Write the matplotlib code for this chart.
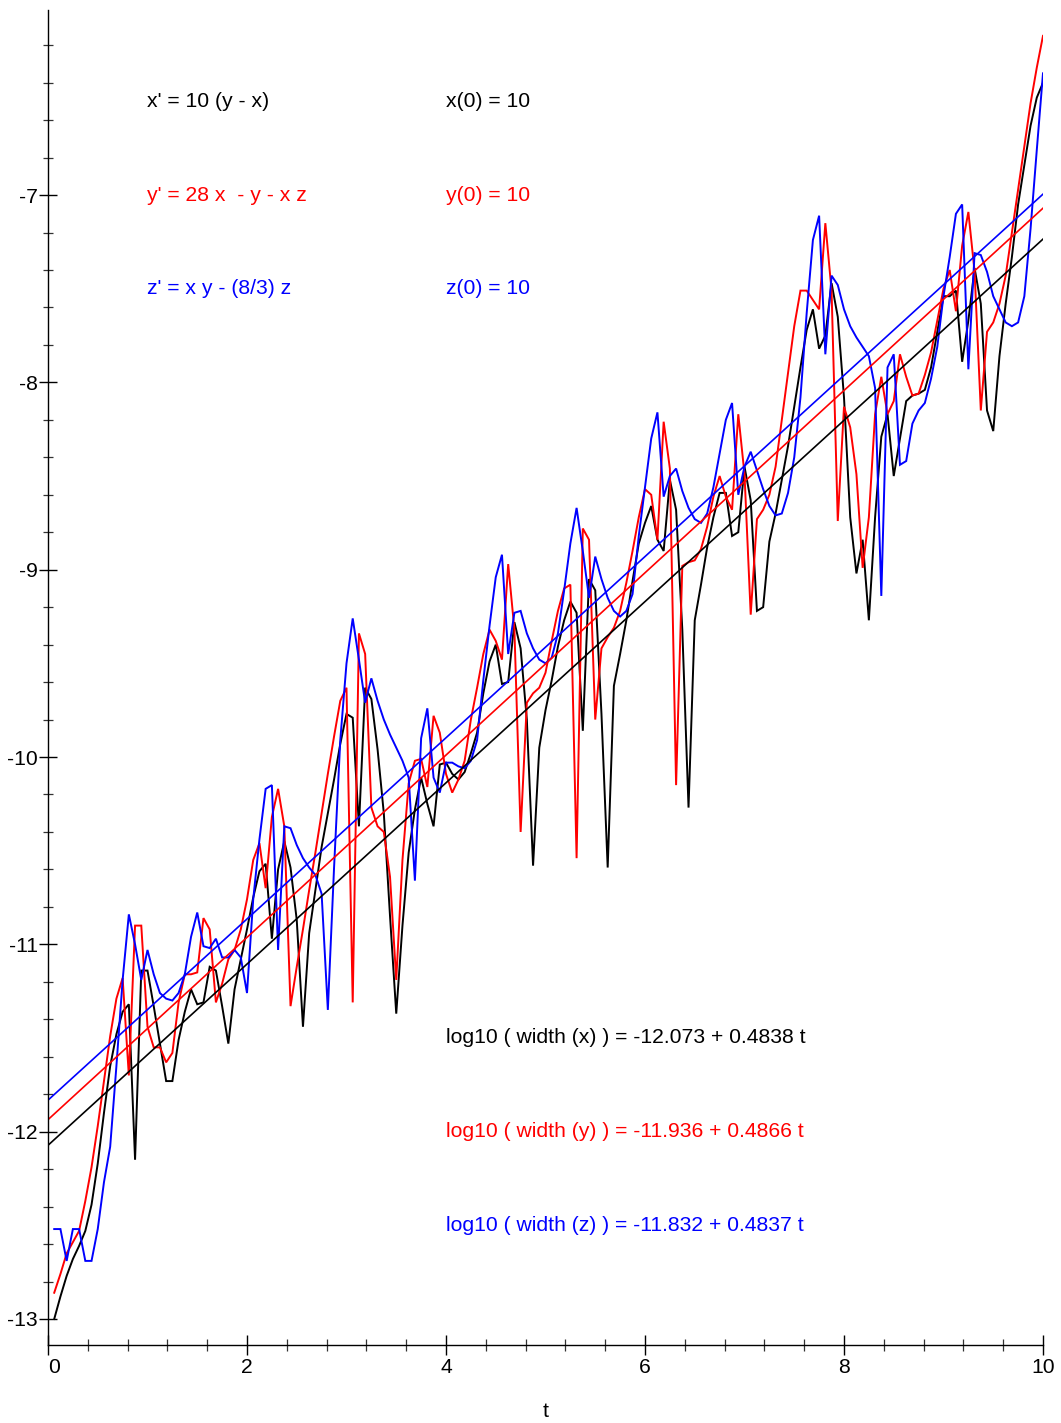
import numpy as np
import matplotlib
matplotlib.use("Agg")
import matplotlib.pyplot as plt
from matplotlib.ticker import MultipleLocator

plt.rcParams['font.family'] = ['Liberation Sans', 'DejaVu Sans']
plt.rcParams['axes.unicode_minus'] = False

# integration grid, step 1/16
t = np.arange(1, 161) / 16.0

# log10 of interval widths
width_x = [
    -13.00, -12.88, -12.77, -12.68, -12.61, -12.53, -12.39, -12.17, -11.90, -11.65,
    -11.48, -11.36, -11.32, -12.15, -11.14, -11.14, -11.33, -11.53, -11.73, -11.73,
    -11.51, -11.36, -11.24, -11.32, -11.31, -11.12, -11.14, -11.33, -11.53, -11.24,
    -11.08, -10.92, -10.75, -10.61, -10.57, -10.97, -10.60, -10.45, -10.59, -10.87,
    -11.44, -10.94, -10.71, -10.48, -10.30, -10.12, -9.93, -9.77, -9.79, -10.37,
    -9.63, -9.69, -9.96, -10.30, -10.85, -11.37, -10.90, -10.51, -10.28, -10.11,
    -10.25, -10.37, -10.04, -10.03, -10.09, -10.12, -10.08, -9.98, -9.87, -9.66,
    -9.49, -9.40, -9.61, -9.60, -9.28, -9.42, -9.80, -10.58, -9.95, -9.75,
    -9.59, -9.41, -9.27, -9.17, -9.23, -9.86, -9.05, -9.11, -9.77, -10.59,
    -9.62, -9.45, -9.27, -9.06, -8.86, -8.75, -8.66, -8.84, -8.90, -8.52,
    -8.68, -9.32, -10.27, -9.27, -9.08, -8.88, -8.72, -8.59, -8.59, -8.82,
    -8.80, -8.45, -8.63, -9.22, -9.20, -8.85, -8.70, -8.52, -8.34, -8.13,
    -7.92, -7.72, -7.61, -7.82, -7.75, -7.47, -7.65, -8.08, -8.72, -9.02,
    -8.84, -9.27, -8.72, -8.29, -8.17, -8.50, -8.30, -8.10, -8.07, -8.06,
    -8.04, -7.92, -7.73, -7.54, -7.54, -7.51, -7.89, -7.67, -7.39, -7.58,
    -8.15, -8.26, -7.86, -7.58, -7.33, -7.05, -6.84, -6.63, -6.48, -6.40,
]
width_y = [
    -12.86, -12.76, -12.65, -12.59, -12.53, -12.37, -12.19, -11.97, -11.73, -11.49,
    -11.29, -11.18, -11.70, -10.90, -10.90, -11.44, -11.55, -11.55, -11.63, -11.58,
    -11.31, -11.16, -11.16, -11.15, -10.86, -10.92, -11.31, -11.21, -11.08, -11.03,
    -10.92, -10.76, -10.55, -10.46, -10.70, -10.32, -10.17, -10.37, -11.33, -11.12,
    -10.92, -10.71, -10.51, -10.30, -10.09, -9.89, -9.70, -9.63, -11.31, -9.34,
    -9.45, -10.27, -10.37, -10.40, -10.64, -11.19, -10.55, -10.14, -10.02, -10.01,
    -10.16, -9.78, -9.87, -10.09, -10.19, -10.12, -10.02, -9.80, -9.63, -9.45,
    -9.32, -9.38, -9.48, -8.97, -9.32, -10.40, -9.71, -9.66, -9.63, -9.55,
    -9.38, -9.22, -9.10, -9.08, -10.54, -8.78, -8.84, -9.80, -9.42, -9.36,
    -9.31, -9.22, -9.07, -8.90, -8.72, -8.57, -8.60, -8.84, -8.21, -8.46,
    -10.15, -8.98, -8.96, -8.95, -8.89, -8.77, -8.61, -8.50, -8.61, -8.68,
    -8.17, -8.49, -9.24, -8.73, -8.68, -8.60, -8.45, -8.20, -7.95, -7.70,
    -7.51, -7.51, -7.56, -7.61, -7.15, -7.51, -8.74, -8.13, -8.24, -8.49,
    -8.99, -8.72, -8.17, -7.97, -8.17, -8.10, -7.85, -7.97, -8.07, -8.06,
    -7.96, -7.84, -7.67, -7.50, -7.40, -7.62, -7.27, -7.09, -7.41, -8.15,
    -7.73, -7.68, -7.58, -7.43, -7.20, -6.97, -6.74, -6.51, -6.32, -6.15,
]
width_z = [
    -12.52, -12.52, -12.69, -12.52, -12.52, -12.69, -12.69, -12.52, -12.27, -12.08,
    -11.65, -11.19, -10.84, -11.00, -11.19, -11.03, -11.16, -11.26, -11.29, -11.30,
    -11.26, -11.16, -10.96, -10.83, -11.01, -11.02, -10.97, -11.07, -11.07, -11.03,
    -11.07, -11.26, -10.76, -10.44, -10.17, -10.15, -11.03, -10.37, -10.38, -10.47,
    -10.54, -10.59, -10.63, -10.73, -11.35, -10.59, -9.91, -9.50, -9.26, -9.48,
    -9.71, -9.58, -9.70, -9.80, -9.88, -9.95, -10.02, -10.11, -10.66, -9.90,
    -9.74, -10.11, -10.19, -10.03, -10.03, -10.05, -10.06, -10.02, -9.91, -9.59,
    -9.30, -9.04, -8.92, -9.45, -9.23, -9.22, -9.34, -9.42, -9.48, -9.50,
    -9.47, -9.34, -9.11, -8.86, -8.67, -8.90, -9.15, -8.93, -9.05, -9.15,
    -9.22, -9.25, -9.22, -9.13, -8.82, -8.56, -8.30, -8.16, -8.61, -8.50,
    -8.46, -8.58, -8.67, -8.73, -8.75, -8.70, -8.56, -8.38, -8.20, -8.11,
    -8.60, -8.45, -8.37, -8.47, -8.57, -8.66, -8.71, -8.70, -8.59, -8.40,
    -8.08, -7.63, -7.24, -7.11, -7.85, -7.43, -7.48, -7.61, -7.70, -7.76,
    -7.81, -7.86, -8.03, -9.14, -7.92, -7.85, -8.44, -8.42, -8.22, -8.15,
    -8.11, -7.98, -7.81, -7.54, -7.33, -7.10, -7.05, -7.93, -7.31, -7.32,
    -7.41, -7.54, -7.61, -7.68, -7.70, -7.68, -7.54, -7.18, -6.76, -6.35,
]

# least squares fits  log10(width) = a + b t
fit_a = [-12.073, -11.936, -11.832]
fit_b = [0.4838, 0.4866, 0.4837]
colors = ['black', 'red', 'blue']
names = ['x', 'y', 'z']

equations = ["x' = 10 (y - x)", "y' = 28 x  - y - x z", "z' = x y - (8/3) z"]
initial = ["x(0) = 10", "y(0) = 10", "z(0) = 10"]

fs = 15.2

fig = plt.figure(figsize=(10.61, 14.23), dpi=100)
ax = fig.add_axes([0.04524, 0.05481, 0.93779, 0.93816])

for w, c in zip([width_x, width_y, width_z], colors):
    ax.plot(t, w, color=c, lw=1.4, solid_joinstyle='miter')

tt = np.array([0.0, 10.0])
for a, b, c in zip(fit_a, fit_b, colors):
    ax.plot(tt, a + b * tt, color=c, lw=1.2)

# equations and fit results
for i in range(3):
    ax.text(1.0, -6.5 - 0.5 * i, equations[i], color=colors[i], fontsize=fs,
            ha='left', va='center')
    ax.text(4.0, -6.5 - 0.5 * i, initial[i], color=colors[i], fontsize=fs,
            ha='left', va='center')
    ax.text(4.0, -11.5 - 0.5 * i,
            "log10 ( width (%s) ) = %.3f + %.4f t" % (names[i], fit_a[i], fit_b[i]),
            color=colors[i], fontsize=fs, ha='left', va='center')

ax.set_xlim(0, 10)
ax.set_ylim(-13.139, -6.012)
ax.spines['top'].set_visible(False)
ax.spines['right'].set_visible(False)
ax.spines['left'].set_linewidth(1.0)
ax.spines['bottom'].set_linewidth(1.0)

ax.xaxis.set_major_locator(MultipleLocator(2))
ax.xaxis.set_minor_locator(MultipleLocator(0.4))
ax.yaxis.set_major_locator(MultipleLocator(1))
ax.yaxis.set_minor_locator(MultipleLocator(0.2))
ax.tick_params(axis='both', which='major', direction='inout', labelsize=fs,
               width=1.0, color='black')
ax.tick_params(axis='both', which='minor', direction='inout', width=0.9,
               color='#333333')
ax.tick_params(axis='x', which='major', length=15, pad=2)
ax.tick_params(axis='x', which='minor', length=9)
ax.tick_params(axis='y', which='major', length=13, pad=1)
ax.tick_params(axis='y', which='minor', length=7)
ax.set_xticks(range(0, 11, 2))
ax.set_xticklabels([str(v) for v in range(0, 11, 2)])
# the 0 label sits just right of the y axis
ax.get_xticklabels()[0].set_horizontalalignment('left')

ax.set_xlabel('t', fontsize=fs, labelpad=18)

fig.savefig('out.png', dpi=100)
